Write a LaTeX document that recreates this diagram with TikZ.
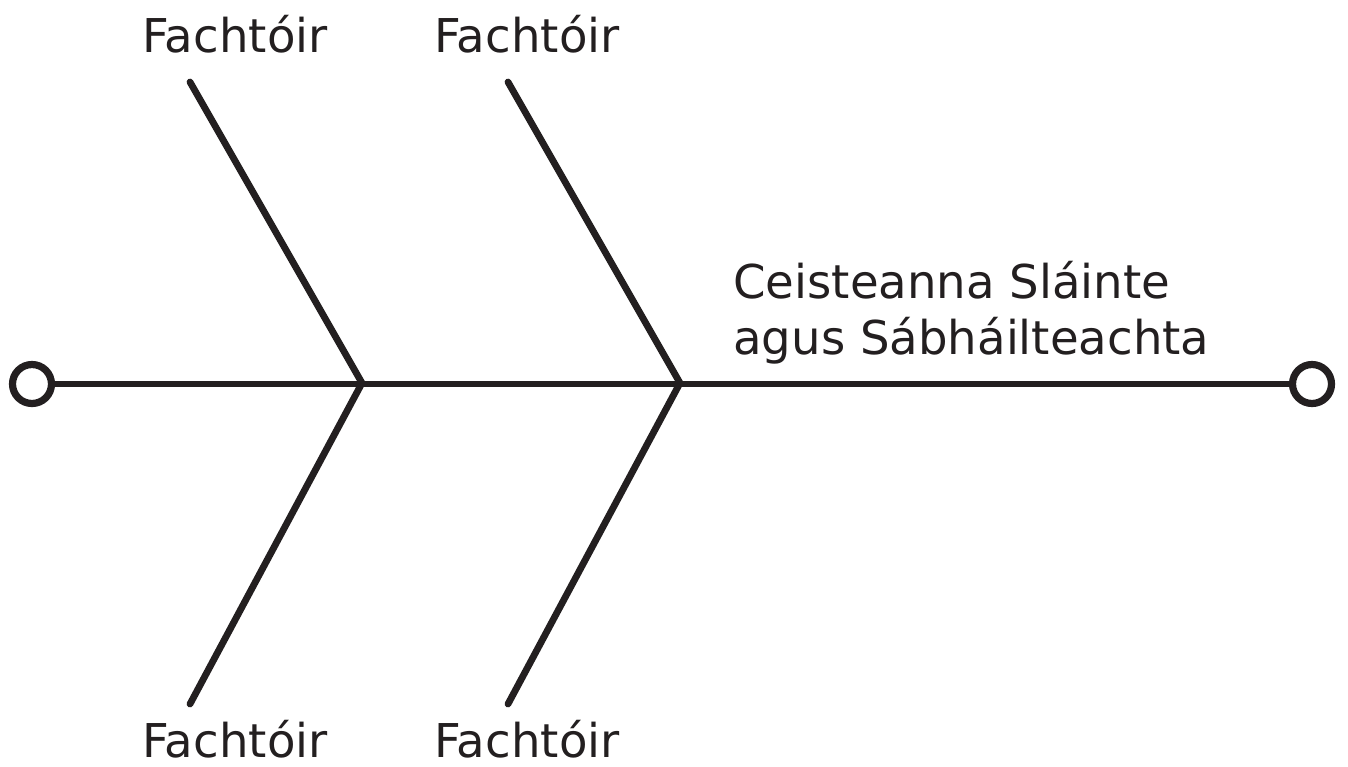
\documentclass[tikz,border=0pt]{standalone}
\usepackage{fontspec}
\setmainfont{DejaVu Sans}
\usepackage{tikz}
\usetikzlibrary{positioning}
\definecolor{ink}{HTML}{231F20}

\begin{document}
\begin{tikzpicture}[
  x=0.5pt,y=-0.5pt,
  spine/.style={draw=ink,line width=3.4pt,line cap=round},
  endring/.style={circle,draw=ink,line width=3.6pt,minimum size=19.5pt,inner sep=0pt},
  factor/.style={font=\fontsize{23.3}{28}\selectfont,text=ink,inner sep=0pt}
]
\useasboundingbox (0,0) rectangle (1348,766);
% --- spine ---
\node[endring] (tail) at (32,384) {};
\node[endring] (head) at (1312,384) {};
\draw[spine] (tail) -- (head);
% --- bones ---
\coordinate (j1) at (362,383);
\coordinate (j2) at (680,383);
\coordinate (u1) at (190,82);
\coordinate (u2) at (508,82);
\coordinate (d1) at (190,704);
\coordinate (d2) at (508,704);
\draw[spine,line join=miter] (u1) -- (j1) -- (d1);
\draw[spine,line join=miter] (u2) -- (j2) -- (d2);
% --- labels ---
\node[factor,anchor=base] (fu1) at (235,52) {Fachtóir};
\node[factor,anchor=base] (fu2) at (527,52) {Fachtóir};
\node[factor,anchor=base] (fd1) at (235,757) {Fachtóir};
\node[factor,anchor=base] (fd2) at (527,757) {Fachtóir};
\node[factor,anchor=north west,align=left] (effect) at (733,261) {Ceisteanna Sláinte\\agus Sábháilteachta};
\end{tikzpicture}
\end{document}
